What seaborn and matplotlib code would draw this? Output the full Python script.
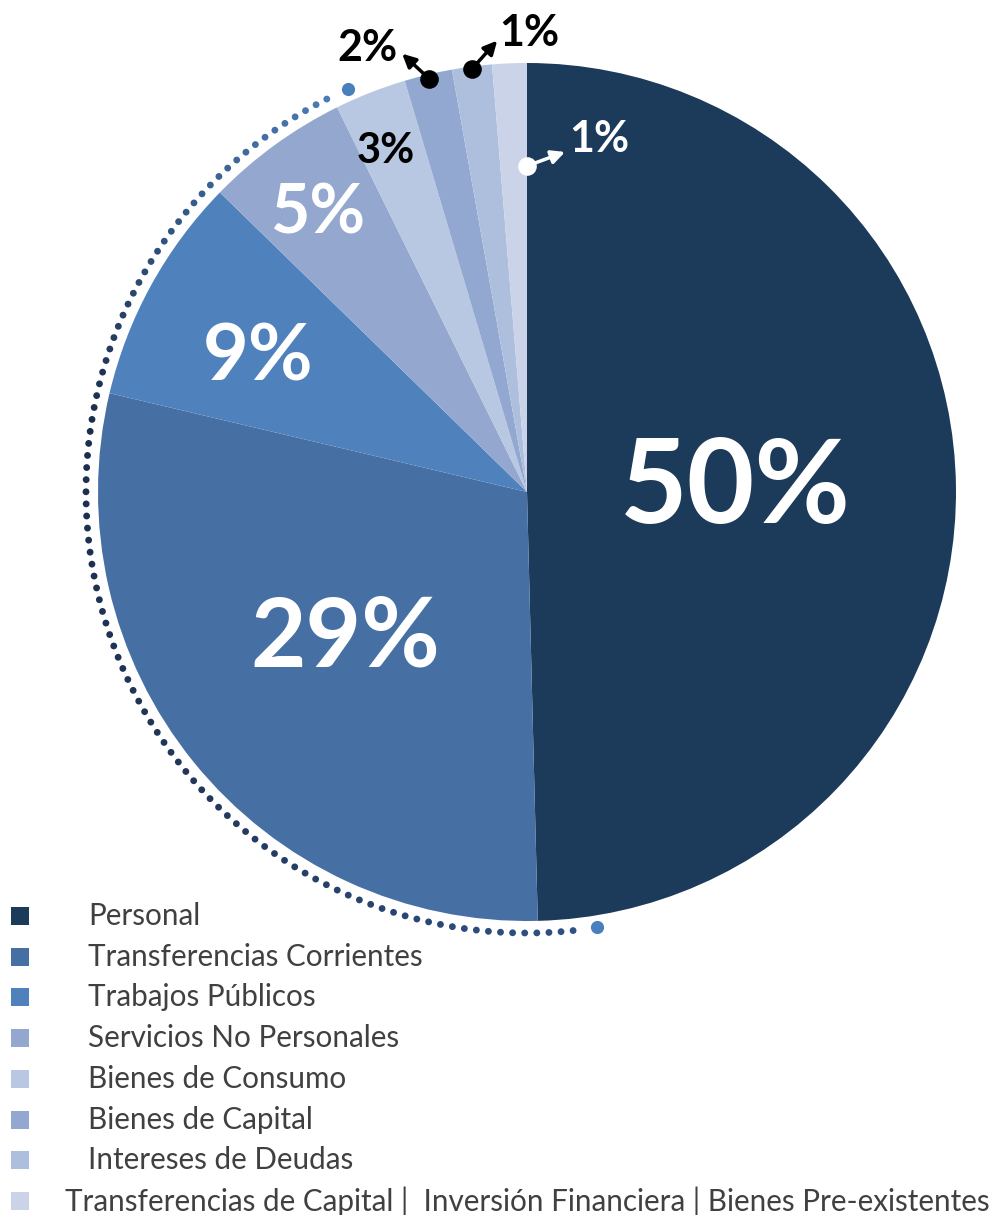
import numpy as np
import seaborn as sns
import matplotlib.pyplot as plt
from matplotlib.colors import LinearSegmentedColormap

categories = ["Personal", "Transferencias Corrientes", "Trabajos Públicos",
              "Servicios No Personales", "Bienes de Consumo", "Bienes de Capital",
              "Intereses de Deudas",
              "Transferencias de Capital |  Inversión Financiera | Bienes Pre-existentes"]
values = [49.6, 29.1, 8.6, 5.4, 2.7, 1.8, 1.5, 1.3]
pct_labels = ["50%", "29%", "9%", "5%", "3%", "2%", "1%", "1%"]
colors = ["#1c3a59", "#4670a4", "#4f81bd", "#94a8cf", "#b8c7e2", "#93a8d0", "#aebfdd", "#cbd3e8"]

sns.set_style("white")
plt.rcParams["font.family"] = ["Lato", "DejaVu Sans"]

W, H = 1000, 1215
fig = plt.figure(figsize=(10, 12.15), dpi=100)
ax = fig.add_axes([0, 0, 1, 1])

cx, cy, R = 527, H - 492, 429
wedges, _ = ax.pie(values, colors=colors, startangle=90, counterclock=False,
                   center=(cx, cy), radius=R, wedgeprops=dict(linewidth=0))
ax.set_xlim(0, W)
ax.set_ylim(0, H)
ax.set_aspect("equal")
ax.axis("off")


def polar(theta, frac):
    t = np.deg2rad(theta)
    return cx + frac * R * np.cos(t), cy + frac * R * np.sin(t)


# labels inside the big wedges: (radial frac, angle tweak, size, colour)
inside = [(0.485, 0, 84, "white"), (0.545, 0, 69, "white"), (0.70, 2.5, 57, "white"),
          (0.81, 1.0, 49, "white"), (0.86, 1.0, 30, "black")]
for w, lab, (frac, dth, fs, col) in zip(wedges, pct_labels, inside):
    x, y = polar((w.theta1 + w.theta2) / 2 + dth, frac)
    ax.text(x, y, lab, ha="center", va="center", fontsize=fs,
            fontweight="bold", color=col)

arrow = dict(arrowstyle="-|>,head_length=0.8,head_width=0.4", lw=2.5,
             shrinkA=0, shrinkB=0)

# call-outs for the thin wedges: (wedge, radial frac, arrow vector, text offset, colour)
callouts = [(5, 0.99, (-27, 25), (-62, 31), "black"),
            (6, 0.995, (25, 28), (57, 36), "black")]
for i, frac, (ax_, ay_), (tx, ty), col in callouts:
    w = wedges[i]
    x, y = polar((w.theta1 + w.theta2) / 2, frac)
    ax.annotate("", xy=(x + ax_, y + ay_), xytext=(x, y),
                arrowprops=dict(arrow, color=col))
    ax.scatter([x], [y], s=180, color=col, zorder=5, linewidths=0)
    ax.text(x + tx, y + ty, pct_labels[i], ha="center", va="center",
            fontsize=31, fontweight="bold", color=col)

# last wedge: white dot on the boundary with Personal
w = wedges[7]
x, y = polar(min(w.theta1, w.theta2), 0.76)
ax.annotate("", xy=(x + 38, y + 14), xytext=(x, y),
            arrowprops=dict(arrow, color="white"))
ax.scatter([x], [y], s=180, color="white", zorder=5, linewidths=0)
ax.text(x + 72, y + 27, pct_labels[7], ha="center", va="center",
        fontsize=31, fontweight="bold", color="white")

# dotted arc around the left side
cmap = LinearSegmentedColormap.from_list("arc", ["#4a7cb6", "#1b2d4b", "#22375a", "#2f5283"])
ang = np.linspace(117, 276, 102)
t = np.deg2rad(ang)
ax.scatter(cx + 441 * np.cos(t), cy + 441 * np.sin(t), s=24,
           c=cmap((ang - ang.min()) / (ang.max() - ang.min())), linewidths=0)
for a in (113.9, 279.1):
    ta = np.deg2rad(a)
    ax.scatter([cx + 441 * np.cos(ta)], [cy + 441 * np.sin(ta)], s=90,
               color="#4a7fbe", linewidths=0)

# legend
row_y = H - 916
for k, (cat, col) in enumerate(zip(categories, colors)):
    yy = row_y - k * 40.7
    ax.scatter([20], [yy], marker="s", s=150, color=col, linewidths=0)
    tx = 88 if k < 7 else 65
    ax.text(tx, yy, cat, ha="left", va="center", fontsize=21.3, color="#404040")

fig.savefig("out.png", dpi=100)
